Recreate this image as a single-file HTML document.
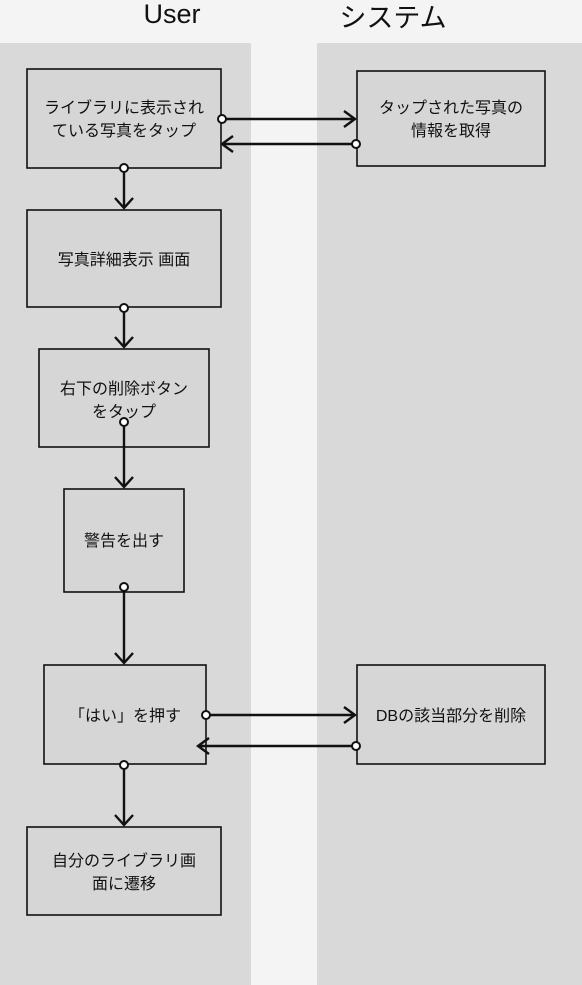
<!DOCTYPE html>
<html><head><meta charset="utf-8"><style>
html,body{margin:0;padding:0;background:#f4f4f4;}
svg{display:block;}
text{font-family:"Liberation Sans","Noto Sans CJK JP",sans-serif;fill:#111;}
.b{fill:#d6d6d6;stroke:#111;stroke-width:1.6;}
.l{stroke:#111;stroke-width:2.4;fill:none;}
.c{fill:#fff;stroke:#111;stroke-width:2;}
.t{font-size:16px;text-anchor:middle;}
</style></head><body>
<svg width="582" height="985" viewBox="0 0 582 985">
<rect x="0" y="0" width="582" height="985" fill="#f4f4f4"/>
<rect x="0" y="43" width="251" height="942" fill="#d9d9d9"/>
<rect x="317" y="43" width="265" height="942" fill="#d9d9d9"/>
<text x="172" y="23" font-size="27" text-anchor="middle">User</text>
<text x="393" y="27" font-size="27" text-anchor="middle">システム</text>

<rect class="b" x="27" y="69" width="194" height="99"/>
<text class="t" x="124" y="113">ライブラリに表示され</text>
<text class="t" x="124" y="136">ている写真をタップ</text>
<rect class="b" x="357" y="71" width="188" height="95"/>
<text class="t" x="451" y="113">タップされた写真の</text>
<text class="t" x="451" y="136">情報を取得</text>
<rect class="b" x="27" y="210" width="194" height="97"/>
<text class="t" x="124" y="265">写真詳細表示 画面</text>
<rect class="b" x="39" y="349" width="170" height="98"/>
<text class="t" x="124" y="394">右下の削除ボタン</text>
<text class="t" x="124" y="417">をタップ</text>
<rect class="b" x="64" y="489" width="120" height="103"/>
<text class="t" x="124" y="546">警告を出す</text>
<rect class="b" x="44" y="665" width="162" height="99"/>
<text class="t" x="125" y="721">「はい」を押す</text>
<rect class="b" x="357" y="665" width="188" height="99"/>
<text class="t" x="451" y="721">DBの該当部分を削除</text>
<rect class="b" x="27" y="827" width="194" height="88"/>
<text class="t" x="124" y="866">自分のライブラリ画</text>
<text class="t" x="124" y="889">面に遷移</text>

<path class="l" d="M222 119H355M344 111l11 8-11 8"/>
<path class="l" d="M356 144H222M233 136l-11 8 11 8"/>
<path class="l" d="M124 168V208M115 198l9 10 9-10"/>
<path class="l" d="M124 308V347M115 337l9 10 9-10"/>
<path class="l" d="M124 422V487M115 477l9 10 9-10"/>
<path class="l" d="M124 587V663M115 653l9 10 9-10"/>
<path class="l" d="M206 715H355M344 707l11 8-11 8"/>
<path class="l" d="M356 746H198M209 738l-11 8 11 8"/>
<path class="l" d="M124 765V825M115 815l9 10 9-10"/>

<circle class="c" cx="222" cy="119" r="4"/>
<circle class="c" cx="356" cy="144" r="4"/>
<circle class="c" cx="124" cy="168" r="4"/>
<circle class="c" cx="124" cy="308" r="4"/>
<circle class="c" cx="124" cy="422" r="4"/>
<circle class="c" cx="124" cy="587" r="4"/>
<circle class="c" cx="206" cy="715" r="4"/>
<circle class="c" cx="356" cy="746" r="4"/>
<circle class="c" cx="124" cy="765" r="4"/>
</svg>
</body></html>
